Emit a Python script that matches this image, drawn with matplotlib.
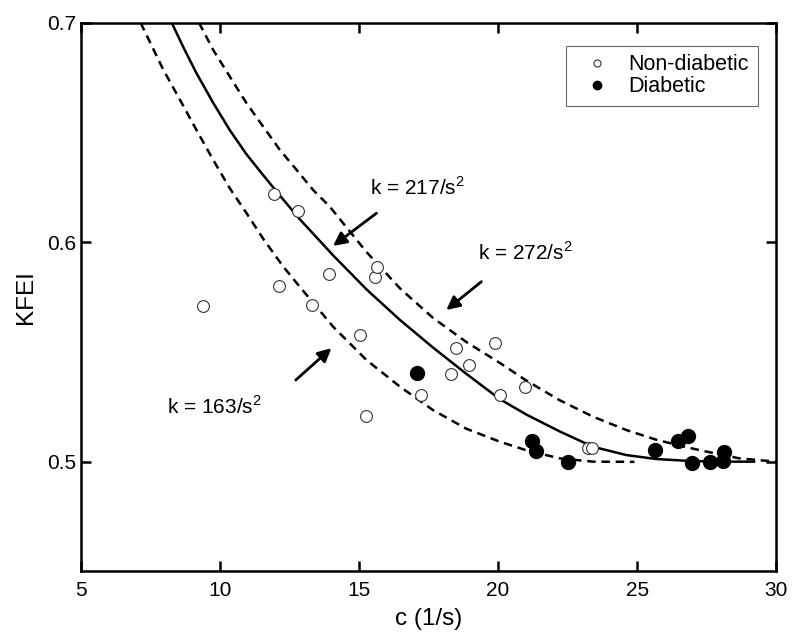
import matplotlib
matplotlib.use('Agg')
import matplotlib.pyplot as plt

plt.rcParams['font.family'] = ['Liberation Sans', 'DejaVu Sans']
plt.rcParams['mathtext.fontset'] = 'custom'
plt.rcParams['mathtext.rm'] = 'Liberation Sans'

# measured points
nd_c = [9.38, 11.93, 12.11, 12.81, 13.32, 13.93, 15.05, 15.24, 15.57, 15.65,
        17.24, 18.30, 18.48, 18.95, 19.90, 20.07, 20.95, 23.23, 23.38]
nd_kfei = [0.571, 0.622, 0.580, 0.614, 0.5714, 0.5857, 0.5577, 0.5208, 0.5843, 0.5886,
           0.5304, 0.540, 0.552, 0.544, 0.554, 0.5304, 0.5342, 0.5064, 0.5064]

d_c = [17.09, 21.22, 21.38, 22.52, 25.65, 26.46, 26.84, 26.98, 27.63, 28.13, 28.07]
d_kfei = [0.5403, 0.5096, 0.5049, 0.4997, 0.5053, 0.5096, 0.5117, 0.4995, 0.500, 0.5046, 0.5005]

# model curves
c_217 = [8.27, 8.7, 9.16, 9.76, 10.36, 10.96, 11.56, 12.16, 12.87, 14.07, 15.27, 16.47,
         17.66, 18.86, 20.06, 21.01, 22.21, 23.41, 24.61, 25.68, 26.9, 28.0, 29.2]
k_217 = [0.700, 0.6885, 0.6770, 0.6635, 0.6510, 0.6400, 0.6305, 0.6212, 0.6105, 0.5940, 0.5785, 0.5646,
         0.5520, 0.5400, 0.5285, 0.5215, 0.5138, 0.5068, 0.5030, 0.5012, 0.5003, 0.5000, 0.5000]

c_163 = [7.15, 7.97, 8.57, 9.16, 9.76, 10.36, 10.96, 11.56, 12.27, 12.87, 14.07,
         15.27, 16.47, 17.66, 18.86, 20.06, 21.01, 22.21, 23.41, 24.9]
k_163 = [0.700, 0.6785, 0.6648, 0.6511, 0.6375, 0.6245, 0.6132, 0.6015, 0.5890, 0.5797, 0.5615,
         0.5463, 0.5342, 0.5235, 0.5150, 0.5091, 0.5052, 0.5015, 0.5000, 0.4999]

c_272 = [9.25, 9.76, 10.36, 10.96, 11.56, 12.16, 12.76, 13.35, 13.95, 15.27, 16.47, 17.66,
         18.86, 20.06, 21.01, 22.21, 23.41, 24.61, 25.68, 26.8, 27.48, 28.67, 29.63, 30.0]
k_272 = [0.700, 0.6876, 0.6754, 0.6633, 0.6526, 0.6420, 0.6329, 0.6238, 0.6162, 0.5955, 0.5790, 0.5655,
         0.5545, 0.5450, 0.5370, 0.5280, 0.5205, 0.5144, 0.5100, 0.5065, 0.5046, 0.5015, 0.5004, 0.5000]

fig = plt.figure(figsize=(8, 6.37), dpi=100)
ax = fig.add_axes([0.1009, 0.103, 0.8695, 0.8614])

ax.plot(c_217, k_217, '-', color='k', lw=1.8)
ax.plot(c_163, k_163, '--', color='k', lw=1.8, dashes=(3.4, 2.3))
ax.plot(c_272, k_272, '--', color='k', lw=1.8, dashes=(3.4, 2.3))

ax.plot(nd_c, nd_kfei, 'o', mfc='white', mec='#333333', mew=0.8, ms=8.5,
        label='Non-diabetic', ls='none')
ax.plot(d_c, d_kfei, 'o', mfc='k', mec='k', ms=10, label='Diabetic', ls='none')

arrow = dict(arrowstyle='-|>', color='k', lw=2, mutation_scale=20, shrinkA=0, shrinkB=0)
ax.annotate('', xy=(14.07, 0.5983), xytext=(15.63, 0.6132), arrowprops=arrow)
ax.annotate('', xy=(18.14, 0.5691), xytext=(19.40, 0.582), arrowprops=arrow)
ax.annotate('', xy=(14.01, 0.5517), xytext=(12.73, 0.5372), arrowprops=arrow)
ax.text(15.39, 0.6215, 'k = 217/s$^2$', fontsize=15, va='baseline', ha='left')
ax.text(19.27, 0.5919, 'k = 272/s$^2$', fontsize=15, va='baseline', ha='left')
ax.text(8.09, 0.522, 'k = 163/s$^2$', fontsize=15, va='baseline', ha='left')

ax.set_xlim(5, 30)
ax.set_ylim(0.45, 0.7)
ax.set_xticks([5, 10, 15, 20, 25, 30])
ax.set_yticks([0.5, 0.6, 0.7])
ax.set_yticklabels(['0.5', '0.6', '0.7'])
ax.tick_params(direction='in', length=7, width=1.8, top=True, right=True, labelsize=15)
ax.tick_params(axis='x', pad=7)
ax.tick_params(axis='y', pad=3.5)
for s in ax.spines.values():
    s.set_linewidth(1.8)

ax.set_xlabel('c (1/s)', fontsize=17.5, labelpad=6)
ax.set_ylabel('KFEI', fontsize=17.5, labelpad=7)

leg = ax.legend(loc='upper right', bbox_to_anchor=(0.973, 0.958), borderaxespad=0,
                fontsize=15.5, markerscale=0.6, frameon=True, fancybox=False,
                handlelength=2.0, handletextpad=0.48, borderpad=0.4, labelspacing=0.05)
leg.get_frame().set_edgecolor('#444444')
leg.get_frame().set_linewidth(0.8)

fig.savefig('out.png', dpi=100)
